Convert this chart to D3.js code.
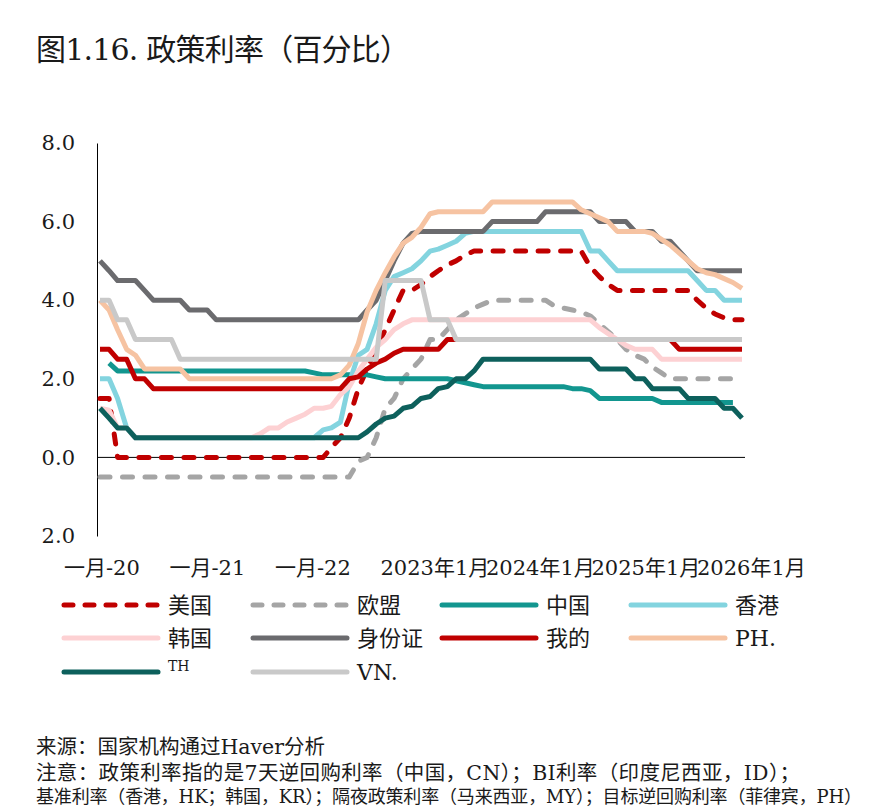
<!DOCTYPE html>
<html>
<head>
<meta charset="utf-8">
<title>政策利率</title>
<script src="https://cdnjs.cloudflare.com/ajax/libs/d3/7.8.5/d3.min.js"></script>
<style>
  body { margin: 0; background: #fff; }
  svg text { font-family: 'DejaVu Serif', 'Noto Sans CJK SC', serif; fill: #1a1a1a; }
</style>
</head>
<body>
<div id="chart"></div>
<script>
// Monthly policy rates, Jan 2020 .. Jan 2026 (73 points each)
var usRates = [1.5,1.5,0,0,0,0,0,0,0,0, 0,0,0,0,0,0,0,0,0,0,
  0,0,0,0,0,0,0.25,0.5,1.0,1.75, 2.25,2.75,3.25,3.75,4.25,4.25,4.4,4.6,4.75,4.9,
  5.0,5.15,5.25,5.25,5.25,5.25,5.25,5.25,5.25,5.25, 5.25,5.25,5.25,5.25,5.25,4.85,4.6,4.4,4.25,4.25,
  4.25,4.25,4.25,4.25,4.25,4.25,4.25,4.0,3.8,3.65, 3.55,3.5,3.5];
var euRates = [-0.5,-0.5,-0.5,-0.5,-0.5,-0.5,-0.5,-0.5,-0.5,-0.5, -0.5,-0.5,-0.5,-0.5,-0.5,-0.5,-0.5,-0.5,-0.5,-0.5,
  -0.5,-0.5,-0.5,-0.5,-0.5,-0.5,-0.5,-0.5,-0.5,-0.1, 0,0.5,1.25,1.5,2.0,2.25,2.5,3.0,3.0,3.25,
  3.5,3.65,3.8,3.9,4.0,4.0,4.0,4.0,4.0,4.0, 4.0,3.85,3.8,3.75,3.7,3.6,3.4,3.2,3.0,2.75,
  2.6,2.5,2.3,2.15,2.0,2.0,2.0,2.0,2.0,2.0, 2.0,2.0,2.0];
var cnRates = [null,2.4,2.2,2.2,2.2,2.2,2.2,2.2,2.2,2.2, 2.2,2.2,2.2,2.2,2.2,2.2,2.2,2.2,2.2,2.2,
  2.2,2.2,2.2,2.2,2.15,2.1,2.1,2.1,2.1,2.1, 2.1,2.05,2.0,2.0,2.0,2.0,2.0,2.0,2.0,2.0,
  1.95,1.9,1.85,1.8,1.8,1.8,1.8,1.8,1.8,1.8, 1.8,1.8,1.8,1.75,1.75,1.7,1.5,1.5,1.5,1.5,
  1.5,1.5,1.5,1.4,1.4,1.4,1.4,1.4,1.4,1.4, 1.4,1.4,null];
var hkRates = [2.0,2.0,1.5,0.75,0.5,0.5,0.5,0.5,0.5,0.5, 0.5,0.5,0.5,0.5,0.5,0.5,0.5,0.5,0.5,0.5,
  0.5,0.5,0.5,0.5,0.5,0.7,0.75,0.9,1.9,2.6, 2.75,3.4,4.25,4.6,4.7,4.8,5.0,5.25,5.3,5.4,
  5.5,5.7,5.75,5.75,5.75,5.75,5.75,5.75,5.75,5.75, 5.75,5.75,5.75,5.75,5.75,5.25,5.25,5.0,4.75,4.75,
  4.75,4.75,4.75,4.75,4.75,4.75,4.75,4.5,4.25,4.25, 4.0,4.0,4.0];
var krRates = [1.25,1.2,0.75,0.75,0.5,0.5,0.5,0.5,0.5,0.5, 0.5,0.5,0.5,0.5,0.5,0.5,0.5,0.5,0.6,0.75,
  0.75,0.9,1.0,1.1,1.25,1.25,1.3,1.6,1.8,2.2, 2.5,2.8,3.0,3.25,3.4,3.5,3.5,3.5,3.5,3.5,
  3.5,3.5,3.5,3.5,3.5,3.5,3.5,3.5,3.5,3.5, 3.5,3.5,3.5,3.5,3.5,3.5,3.3,3.15,3.0,2.85,
  2.75,2.75,2.75,2.5,2.5,2.5,2.5,2.5,2.5,2.5, 2.5,2.5,2.5];
var idRates = [5.0,4.75,4.5,4.5,4.5,4.25,4.0,4.0,4.0,4.0, 3.75,3.75,3.75,3.5,3.5,3.5,3.5,3.5,3.5,3.5,
  3.5,3.5,3.5,3.5,3.5,3.5,3.5,3.5,3.5,3.5, 3.75,4.0,4.5,5.0,5.45,5.7,5.75,5.75,5.75,5.75,
  5.75,5.75,5.75,5.75,6.0,6.0,6.0,6.0,6.0,6.0, 6.25,6.25,6.25,6.25,6.25,6.25,6.0,6.0,6.0,6.0,
  5.75,5.75,5.75,5.5,5.5,5.25,5.0,4.75,4.75,4.75, 4.75,4.75,4.75];
var myRates = [2.75,2.75,2.5,2.5,2.0,2.0,1.75,1.75,1.75,1.75, 1.75,1.75,1.75,1.75,1.75,1.75,1.75,1.75,1.75,1.75,
  1.75,1.75,1.75,1.75,1.75,1.75,1.75,1.75,2.0,2.05, 2.25,2.4,2.5,2.65,2.75,2.75,2.75,2.75,2.75,3.0,
  3.0,3.0,3.0,3.0,3.0,3.0,3.0,3.0,3.0,3.0, 3.0,3.0,3.0,3.0,3.0,3.0,3.0,3.0,3.0,3.0,
  3.0,3.0,3.0,3.0,3.0,2.75,2.75,2.75,2.75,2.75, 2.75,2.75,2.75];
var phRates = [4.0,3.75,3.25,2.75,2.6,2.25,2.25,2.25,2.25,2.25, 2.0,2.0,2.0,2.0,2.0,2.0,2.0,2.0,2.0,2.0,
  2.0,2.0,2.0,2.0,2.0,2.0,2.0,2.1,2.35,2.9, 3.7,4.25,4.7,5.1,5.45,5.6,5.85,6.2,6.25,6.25,
  6.25,6.25,6.25,6.25,6.5,6.5,6.5,6.5,6.5,6.5, 6.5,6.5,6.5,6.5,6.3,6.2,6.1,6.0,5.75,5.75,
  5.75,5.75,5.7,5.55,5.4,5.2,5.0,4.8,4.7,4.65, 4.55,4.45,4.3];
var thRates = [1.25,1.0,0.75,0.75,0.5,0.5,0.5,0.5,0.5,0.5, 0.5,0.5,0.5,0.5,0.5,0.5,0.5,0.5,0.5,0.5,
  0.5,0.5,0.5,0.5,0.5,0.5,0.5,0.5,0.5,0.5, 0.65,0.85,1.0,1.05,1.25,1.3,1.5,1.55,1.75,1.8,
  2.0,2.0,2.2,2.5,2.5,2.5,2.5,2.5,2.5,2.5, 2.5,2.5,2.5,2.5,2.5,2.5,2.25,2.25,2.25,2.25,
  2.0,2.0,1.75,1.75,1.75,1.75,1.5,1.5,1.5,1.5, 1.25,1.25,1.0];
var vnRates = [4.0,4.0,3.5,3.5,3.0,3.0,3.0,3.0,3.0,2.5, 2.5,2.5,2.5,2.5,2.5,2.5,2.5,2.5,2.5,2.5,
  2.5,2.5,2.5,2.5,2.5,2.5,2.5,2.5,2.5,2.5, 2.5,2.5,4.5,4.5,4.5,4.5,4.5,3.5,3.5,3.5,
  3.0,3.0,3.0,3.0,3.0,3.0,3.0,3.0,3.0,3.0, 3.0,3.0,3.0,3.0,3.0,3.0,3.0,3.0,3.0,3.0,
  3.0,3.0,3.0,3.0,3.0,3.0,3.0,3.0,3.0,3.0, 3.0,3.0,3.0];

var seriesNames = ['美国', '欧盟', '中国', '香港', '韩国', '身份证', '我的', 'PH.', 'TH', 'VN.'];
var yTicks = [-2, 0, 2, 4, 6, 8];
var xTickYears = [2020, 2021, 2022, 2023, 2024, 2025, 2026];
var xTickLabels = ['一月-20', '一月-21', '一月-22', '2023年1月', '2024年1月', '2025年1月', '2026年1月'];
var notes = [
  '来源：国家机构通过Haver分析',
  '注意：政策利率指的是7天逆回购利率（中国，CN）；BI利率（印度尼西亚，ID）；',
  '基准利率（香港，HK；韩国，KR）；隔夜政策利率（马来西亚，MY）；目标逆回购利率（菲律宾，PH）'
];

(function(d3) {
  var width = 869, height = 811;

  // styles per series, same order as the legend (later ones drawn on top)
  var styles = [
    { color: '#c00000', dash: '10,12.5' },
    { color: '#a5a5a5', dash: '10,12.5' },
    { color: '#12968f' },
    { color: '#83d4df' },
    { color: '#fdd1d3' },
    { color: '#6b6b6e' },
    { color: '#c00000' },
    { color: '#f6c3a2' },
    { color: '#0d605c' },
    { color: '#c9c9c9' }
  ];
  var values = [usRates, euRates, cnRates, hkRates, krRates, idRates, myRates, phRates, thRates, vnRates];

  var series = seriesNames.map(function(name, i) {
    return { name: name, values: values[i], color: styles[i].color, dash: styles[i].dash };
  });

  var months = d3.timeMonth.range(new Date(2020, 0, 1), new Date(2026, 1, 1));

  var x = d3.scaleTime()
    .domain([months[0], months[months.length - 1]])
    .range([100, 742]);

  var y = d3.scaleLinear()
    .domain([-2, 8])
    .range([536, 143]);

  // left edges of the category labels
  var labelX = d3.scaleLinear()
    .domain([2020, 2026])
    .range([64, 697]);

  var svg = d3.select('#chart').append('svg')
    .attr('width', width)
    .attr('height', height);

  svg.append('rect')
    .attr('width', width)
    .attr('height', height)
    .attr('fill', '#fff');

  // Title
  svg.append('text')
    .attr('x', 36)
    .attr('y', 60)
    .style('font-size', '30px')
    .attr('textLength', 374)
    .text('图1.16. 政策利率（百分比）');

  // Y axis
  var yAxis = d3.axisLeft(y)
    .tickValues(yTicks)
    .tickSize(0)
    .tickPadding(22)
    .tickFormat(function(d) { return d3.format('.1f')(Math.abs(d)); });

  var yg = svg.append('g')
    .attr('transform', 'translate(97,0)')
    .call(yAxis);
  yg.select('.domain').attr('stroke', '#000').attr('stroke-width', 1);
  yg.selectAll('text')
    .style('font-size', '21px')
    .style('font-family', "'DejaVu Serif', serif")
    .attr('fill', '#222');

  // zero line
  svg.append('line')
    .attr('x1', 97)
    .attr('x2', 745)
    .attr('y1', y(0))
    .attr('y2', y(0))
    .attr('stroke', '#000')
    .attr('stroke-width', 1);

  // X labels
  svg.append('g').selectAll('text')
    .data(xTickLabels)
    .enter().append('text')
    .attr('x', function(d, i) { return labelX(xTickYears[i]); })
    .attr('y', 575)
    .style('font-size', '21px')
    .text(function(d) { return d; });

  // Lines
  var line = d3.line()
    .defined(function(d) { return d != null; })
    .x(function(d, i) { return x(months[i]); })
    .y(function(d) { return y(d); });

  svg.append('g').selectAll('path')
    .data(series)
    .enter().append('path')
    .attr('d', function(d) { return line(d.values); })
    .attr('fill', 'none')
    .attr('stroke', function(d) { return d.color; })
    .attr('stroke-width', 5)
    .attr('stroke-linejoin', 'round')
    .attr('stroke-linecap', function(d) { return d.dash ? 'round' : 'butt'; })
    .attr('stroke-dasharray', function(d) { return d.dash || null; });

  // Legend
  var legendCols = [62, 251, 440, 629], legendRows = [605, 638, 672];
  var legend = svg.append('g').selectAll('g')
    .data(series)
    .enter().append('g')
    .attr('transform', function(d, i) {
      return 'translate(' + legendCols[i % 4] + ',' + legendRows[Math.floor(i / 4)] + ')';
    });

  legend.append('line')
    .attr('x1', 2)
    .attr('x2', 96)
    .attr('stroke', function(d) { return d.color; })
    .attr('stroke-width', 5)
    .attr('stroke-linecap', 'round')
    .attr('stroke-dasharray', function(d) { return d.dash ? '9,12' : null; });

  legend.append('text')
    .attr('x', 106)
    .attr('y', function(d) { return d.name === 'TH' ? -1 : 8; })
    .style('font-size', function(d) { return d.name === 'TH' ? '14px' : '22px'; })
    .text(function(d) { return d.name; });

  // Notes
  var noteWidths = [289, 764, 826];
  svg.append('g').selectAll('text')
    .data(notes)
    .enter().append('text')
    .attr('x', 36)
    .attr('y', function(d, i) { return [754, 780, 803][i]; })
    .style('font-size', function(d, i) { return i < 2 ? '20.5px' : '18px'; })
    .attr('textLength', function(d, i) { return noteWidths[i]; })
    .text(function(d) { return d; });

})(d3);
</script>
</body>
</html>
